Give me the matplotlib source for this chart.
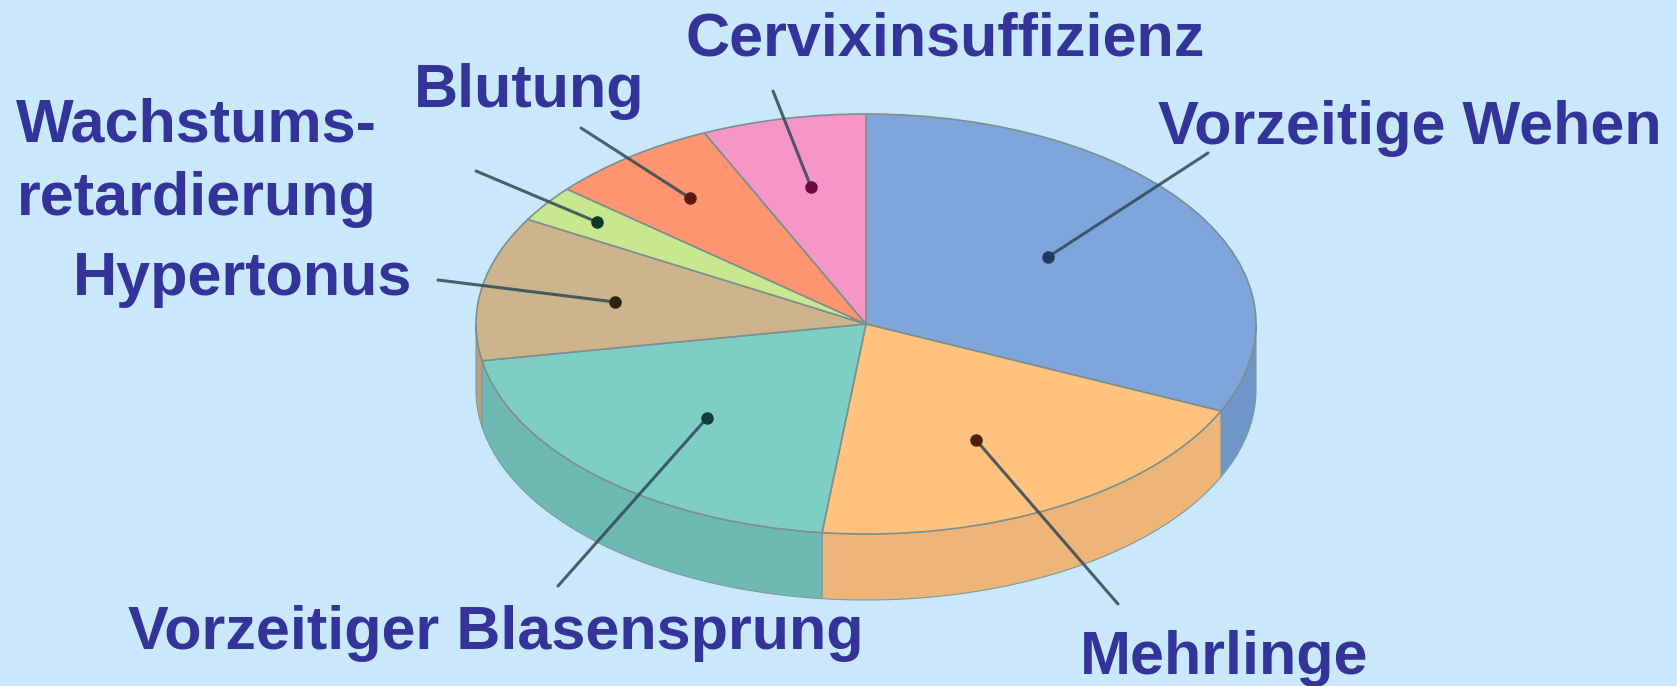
import numpy as np
import matplotlib
matplotlib.use('Agg')
import matplotlib.pyplot as plt
from matplotlib.patches import Polygon

# anteile der ursachen, im uhrzeigersinn ab 12 uhr
labels = ['Vorzeitige Wehen', 'Mehrlinge', 'Vorzeitiger Blasensprung', 'Hypertonus',
          'Wachstumsretardierung', 'Blutung', 'Cervixinsuffizienz']
values = [31.8, 20.0, 20.4, 11.1, 2.8, 7.1, 6.8]
top_colors = ['#7fa6dc', '#ffc27f', '#7dcfc6', '#cdb48c', '#c8e890', '#ff9470', '#f595c8']
side_colors = ['#6f96c8', '#edb578', '#6fb9b3', '#b8a27e', '#b4d080', '#e58464', '#dd86b4']

W, H = 1677, 686
cx, cy, rx, ry, depth = 866, 324, 390, 210, 66

text_color = '#343399'
bg_color = '#c9e8fb'
line_color = '#2f4a55'

# text: (x links, grundlinie) in pixeln
text_items = [('Cervixinsuffizienz', 686, 55), ('Blutung', 414, 107), ('Wachstums-', 16, 142),
              ('retardierung', 17, 215), ('Hypertonus', 73, 295), ('Vorzeitige Wehen', 1158, 144),
              ('Vorzeitiger Blasensprung', 128, 649), ('Mehrlinge', 1080, 674)]

# punkt im segment und ende der fuehrungslinie, gleiche reihenfolge wie labels
dot_x = [1048, 976, 707, 615, 597, 690, 811]
dot_y = [257, 440, 418, 302, 222, 198, 187]
end_x = [1208, 1118, 558, 438, 476, 581, 773]
end_y = [153, 604, 586, 280, 171, 128, 91]
dot_colors = ['#1d3a5c', '#4a2208', '#123c3c', '#2c2410', '#0c3a28', '#5a1a0a', '#6a0a40']

fig = plt.figure(figsize=(W / 100, H / 100), dpi=100, facecolor=bg_color)

ax = fig.add_axes([(cx - rx) / W, 1 - (cy + ry) / H, 2 * rx / W, 2 * ry / H])
wedges, _ = ax.pie(values, colors=top_colors, startangle=90, counterclock=False, radius=1,
                   wedgeprops={'edgecolor': '#7c8f8c', 'linewidth': 1.2, 'zorder': 3})
ax.set_aspect('auto')
ax.set_xlim(-1, 1)
ax.set_ylim(-1, 1)

# seitenwand der scheibe, nur der untere halbkreis ist sichtbar
d = depth / ry
edges = 90 - np.cumsum([0] + values) * 3.6
for i, col in enumerate(side_colors):
    lo, hi = max(edges[i + 1], -180), min(edges[i], 0)
    if lo >= hi:
        continue
    t = np.radians(np.linspace(lo, hi, 60))
    top = np.column_stack([np.cos(t), np.sin(t)])
    low = top[::-1] - [0, d]
    ax.add_patch(Polygon(np.vstack([top, low]), closed=True, facecolor=col, edgecolor='#7c9a9c',
                         linewidth=0.8, zorder=2, clip_on=False))

# pixel-ebene fuer text und fuehrungslinien
ov = fig.add_axes([0, 0, 1, 1], facecolor='none')
ov.set_xlim(0, W)
ov.set_ylim(H, 0)
ov.axis('off')

for i in range(len(labels)):
    ov.plot([dot_x[i], end_x[i]], [dot_y[i], end_y[i]], color=line_color, lw=2.2, alpha=0.85,
            solid_capstyle='round')
    ov.plot(dot_x[i], dot_y[i], 'o', ms=8, color=dot_colors[i])

for txt, x, y in text_items:
    ov.text(x, y, txt, family='Liberation Sans', weight='bold', fontsize=44, color=text_color,
            ha='left', va='baseline')

fig.savefig('out.png', dpi=100, facecolor=bg_color)
